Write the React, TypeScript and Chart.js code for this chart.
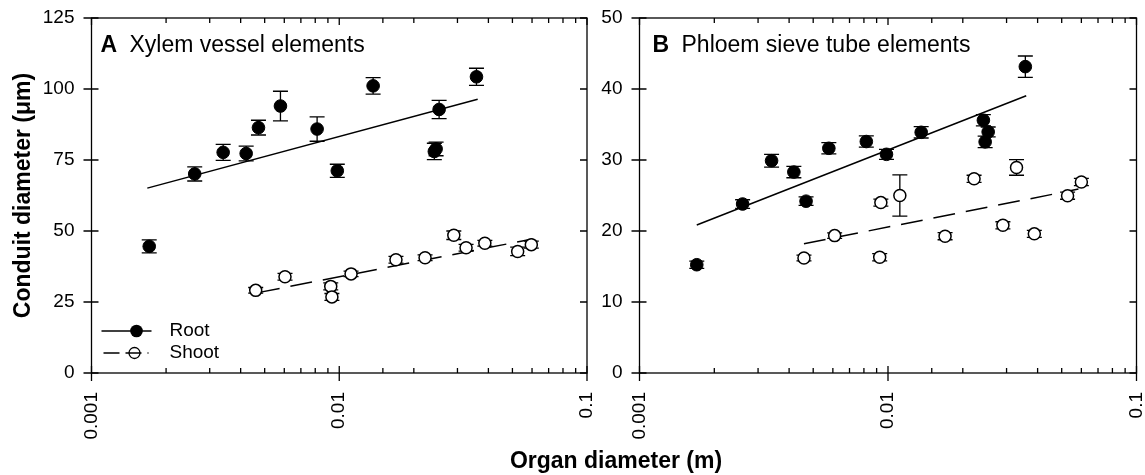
import React, { useEffect, useRef } from "react";
import { Chart, registerables } from "chart.js";

Chart.register(...registerables);

const FONT = "'Liberation Sans', Arial, Helvetica, sans-serif";

// ---------- Panel A: Xylem vessel elements ----------
const rootXA = [0.00171, 0.00261, 0.0034, 0.00421, 0.00472, 0.00579, 0.00814, 0.00982, 0.0137, 0.0253, 0.0242, 0.0246, 0.0358];
const rootYA = [44.6, 70.1, 77.7, 77.3, 86.4, 94.0, 85.9, 71.2, 101.1, 92.8, 78.0, 78.9, 104.3];
const rootEA = [2.3, 2.5, 2.8, 2.6, 2.6, 5.2, 4.3, 2.3, 2.9, 3.2, 2.9, 2.4, 3.0];
const shootXA = [0.0046, 0.00604, 0.00924, 0.00934, 0.01116, 0.01694, 0.0222, 0.029, 0.0325, 0.0387, 0.0525, 0.0596];
const shootYA = [29.1, 33.9, 30.5, 26.8, 34.9, 39.9, 40.6, 48.5, 44.1, 45.7, 42.8, 45.2];
const shootEA = [1.0, 1.2, 1.2, 1.2, 1.0, 1.2, 1.0, 1.5, 1.2, 1.0, 1.5, 1.2];
const rootFitXA = [0.00168, 0.0362];
const rootFitYA = [65.1, 96.4];
const shootFitXA = [0.0047, 0.0604];
const shootFitYA = [28.3, 47.2];

// ---------- Panel B: Phloem sieve tube elements ----------
const rootXB = [0.0017, 0.0026, 0.0034, 0.00418, 0.00468, 0.00578, 0.00818, 0.00986, 0.0136, 0.0242, 0.0253, 0.0246, 0.0357];
const rootYB = [15.25, 23.8, 29.9, 28.3, 24.2, 31.65, 32.6, 30.8, 33.9, 35.6, 33.95, 32.55, 43.15];
const rootEB = [0.5, 0.6, 0.9, 0.8, 0.6, 0.8, 0.8, 0.7, 0.8, 0.8, 0.7, 0.8, 1.5];
const shootXB = [0.00459, 0.0061, 0.00926, 0.00936, 0.01116, 0.01697, 0.0222, 0.029, 0.0329, 0.0388, 0.0528, 0.06];
const shootYB = [16.2, 19.35, 16.3, 24.0, 25.0, 19.27, 27.35, 20.8, 28.95, 19.6, 24.97, 26.9];
const shootEB = [0.4, 0.4, 0.5, 0.5, 2.9, 0.5, 0.5, 0.5, 1.1, 0.5, 0.5, 0.5];
const rootFitXB = [0.0017, 0.036];
const rootFitYB = [20.85, 39.05];
const shootFitXB = [0.00459, 0.0584];
const shootFitYB = [18.2, 25.9];

// ---------- Axes ----------
const xMin = 0.001;
const xMax = 0.1;
const xTickLabels = ["0.001", "0.01", "0.1"];
const yMaxA = 125;
const yStepA = 25;
const yMaxB = 50;
const yStepB = 10;

const legendLabels = ["Root", "Shoot"];

const toPts = (xs: number[], ys: number[]) => xs.map((x, i) => ({ x, y: ys[i] }));
const isPow10 = (v: number) => {
  const lg = Math.log10(v);
  return Math.abs(lg - Math.round(lg)) < 1e-6;
};

const errorBarPlugin = {
  id: "errorBars",
  beforeDatasetsDraw(chart: any) {
    const { ctx } = chart;
    const xs = chart.scales.x;
    const ys = chart.scales.y;
    ctx.save();
    ctx.strokeStyle = "#000";
    ctx.lineWidth = 1.3;
    chart.data.datasets.forEach((ds: any) => {
      if (!ds.errors) return;
      ds.data.forEach((pt: any, i: number) => {
        const e = ds.errors[i];
        const px = xs.getPixelForValue(pt.x);
        const y1 = ys.getPixelForValue(pt.y + e);
        const y2 = ys.getPixelForValue(pt.y - e);
        ctx.beginPath();
        ctx.moveTo(px, y1);
        ctx.lineTo(px, y2);
        ctx.moveTo(px - 7.5, y1);
        ctx.lineTo(px + 7.5, y1);
        ctx.moveTo(px - 7.5, y2);
        ctx.lineTo(px + 7.5, y2);
        ctx.stroke();
      });
    });
    ctx.restore();
  },
};

const framePlugin = {
  id: "frameTicks",
  afterDraw(chart: any) {
    const { ctx, chartArea: a } = chart;
    const xs = chart.scales.x;
    const ys = chart.scales.y;
    ctx.save();
    ctx.strokeStyle = "#000";
    ctx.lineWidth = 1.3;
    ctx.strokeRect(a.left, a.top, a.right - a.left, a.bottom - a.top);
    ctx.beginPath();
    xs.ticks.forEach((t: any) => {
      const px = xs.getPixelForValue(t.value);
      const major = isPow10(t.value);
      const inL = major ? 7 : 5;
      ctx.moveTo(px, a.bottom + (major ? 8 : 0));
      ctx.lineTo(px, a.bottom - inL);
      ctx.moveTo(px, a.top);
      ctx.lineTo(px, a.top + inL);
    });
    ys.ticks.forEach((t: any) => {
      const py = ys.getPixelForValue(t.value);
      ctx.moveTo(a.left - 8, py);
      ctx.lineTo(a.left + 7, py);
      ctx.moveTo(a.right, py);
      ctx.lineTo(a.right - 7, py);
    });
    ctx.stroke();
    ctx.restore();
  },
};

const annotPlugin = {
  id: "annot",
  afterDraw(chart: any) {
    const { ctx, chartArea: a } = chart;
    const o = chart.options.plugins.annot;
    ctx.save();
    ctx.fillStyle = "#000";
    ctx.textBaseline = "alphabetic";
    ctx.textAlign = "left";
    ctx.font = `bold 23px ${FONT}`;
    ctx.fillText(o.letter, a.left + o.letterOffset, 52);
    ctx.font = `23px ${FONT}`;
    ctx.fillText(o.title, a.left + o.letterOffset + 29, 52);
    if (o.legend) {
      const y1 = 331;
      const y2 = 353;
      ctx.strokeStyle = "#000";
      ctx.lineWidth = 1.3;
      ctx.beginPath();
      ctx.moveTo(a.left + 10, y1);
      ctx.lineTo(a.left + 60, y1);
      ctx.stroke();
      ctx.beginPath();
      ctx.arc(a.left + 45, y1, 6.3, 0, Math.PI * 2);
      ctx.fill();
      ctx.setLineDash([16, 6]);
      ctx.beginPath();
      ctx.moveTo(a.left + 12, y2);
      ctx.lineTo(a.left + 57, y2);
      ctx.stroke();
      ctx.setLineDash([]);
      ctx.beginPath();
      ctx.arc(a.left + 43, y2, 5.5, 0, Math.PI * 2);
      ctx.stroke();
      ctx.font = `19px ${FONT}`;
      ctx.textBaseline = "middle";
      ctx.fillText(legendLabels[0], a.left + 78, y1);
      ctx.fillText(legendLabels[1], a.left + 78, y2);
    }
    ctx.restore();
  },
};

type PanelSpec = {
  letter: string;
  title: string;
  rootX: number[];
  rootY: number[];
  rootE: number[];
  shootX: number[];
  shootY: number[];
  shootE: number[];
  rootFitX: number[];
  rootFitY: number[];
  shootFitX: number[];
  shootFitY: number[];
  yMax: number;
  yStep: number;
  legend: boolean;
  yTitle: string | null;
  yAxisWidth: number;
  padRight: number;
  letterOffset: number;
};

function makeConfig(p: PanelSpec): any {
  return {
    type: "scatter",
    data: {
      datasets: [
        {
          label: legendLabels[0],
          data: toPts(p.rootX, p.rootY),
          errors: p.rootE,
          pointRadius: 6.3,
          pointBackgroundColor: "#000",
          pointBorderColor: "#000",
          pointBorderWidth: 1,
          showLine: false,
          order: 0,
        },
        {
          label: legendLabels[1],
          data: toPts(p.shootX, p.shootY),
          errors: p.shootE,
          pointRadius: 6,
          pointBackgroundColor: "#fff",
          pointBorderColor: "#000",
          pointBorderWidth: 1.5,
          showLine: false,
          order: 0,
        },
        {
          label: "root fit",
          data: toPts(p.rootFitX, p.rootFitY),
          showLine: true,
          pointRadius: 0,
          borderColor: "#000",
          borderWidth: 1.5,
          order: 1,
        },
        {
          label: "shoot fit",
          data: toPts(p.shootFitX, p.shootFitY),
          showLine: true,
          pointRadius: 0,
          borderColor: "#000",
          borderWidth: 1.5,
          borderDash: [22, 11],
          order: 1,
        },
      ],
    },
    options: {
      responsive: false,
      animation: false,
      devicePixelRatio: 1,
      layout: { padding: { left: 0, right: p.padRight, top: 18, bottom: 0 } },
      plugins: {
        legend: { display: false },
        tooltip: { enabled: false },
        annot: { letter: p.letter, title: p.title, legend: p.legend, letterOffset: p.letterOffset },
      },
      scales: {
        x: {
          type: "logarithmic",
          min: xMin,
          max: xMax,
          grid: { display: false, drawTicks: false },
          border: { display: false },
          afterFit: (s: any) => {
            s.height = 102;
            s.paddingLeft = 0;
            s.paddingRight = 0;
          },
          ticks: {
            autoSkip: false,
            minRotation: 90,
            maxRotation: 90,
            padding: 19,
            color: "#000",
            font: { size: 19, family: FONT },
            callback: (v: any) => {
              const n = Number(v);
              if (!isPow10(n)) return "";
              const idx = Math.round(Math.log10(n / xMin));
              return xTickLabels[idx] ?? "";
            },
          },
        },
        y: {
          type: "linear",
          min: 0,
          max: p.yMax,
          grid: { display: false, drawTicks: false },
          border: { display: false },
          afterFit: (s: any) => {
            s.width = p.yAxisWidth;
            s.paddingTop = 0;
            s.paddingBottom = 0;
          },
          title: p.yTitle
            ? {
                display: true,
                text: p.yTitle,
                color: "#000",
                font: { size: 23, weight: "bold", family: FONT },
                padding: { top: 10, bottom: 0 },
              }
            : { display: false },
          ticks: {
            stepSize: p.yStep,
            padding: 17,
            color: "#000",
            font: { size: 19, family: FONT },
          },
        },
      },
    },
    plugins: [errorBarPlugin, framePlugin, annotPlugin],
  };
}

function Panel({ spec, left, width }: { spec: PanelSpec; left: number; width: number }) {
  const ref = useRef<HTMLCanvasElement | null>(null);
  useEffect(() => {
    if (!ref.current) return;
    const chart = new Chart(ref.current, makeConfig(spec));
    return () => chart.destroy();
  }, []);
  return (
    <canvas
      ref={ref}
      width={width}
      height={475}
      style={{ position: "absolute", left, top: 0, width, height: 475 }}
    />
  );
}

const specA: PanelSpec = {
  letter: "A",
  title: "Xylem vessel elements",
  rootX: rootXA,
  rootY: rootYA,
  rootE: rootEA,
  shootX: shootXA,
  shootY: shootYA,
  shootE: shootEA,
  rootFitX: rootFitXA,
  rootFitY: rootFitYA,
  shootFitX: shootFitXA,
  shootFitY: shootFitYA,
  yMax: yMaxA,
  yStep: yStepA,
  legend: true,
  yTitle: "Conduit diameter (\u03bcm)",
  yAxisWidth: 91.5,
  padRight: 13,
  letterOffset: 9,
};

const specB: PanelSpec = {
  letter: "B",
  title: "Phloem sieve tube elements",
  rootX: rootXB,
  rootY: rootYB,
  rootE: rootEB,
  shootX: shootXB,
  shootY: shootYB,
  shootE: shootEB,
  rootFitX: rootFitXB,
  rootFitY: rootFitYB,
  shootFitX: shootFitXB,
  shootFitY: shootFitYB,
  yMax: yMaxB,
  yStep: yStepB,
  legend: false,
  yTitle: null,
  yAxisWidth: 49.5,
  padRight: 8.5,
  letterOffset: 13,
};

export default function App() {
  return (
    <div
      style={{
        position: "fixed",
        left: 0,
        top: 0,
        width: 1145,
        height: 475,
        background: "#fff",
        overflow: "hidden",
      }}
    >
      <Panel spec={specA} left={0} width={600} />
      <Panel spec={specB} left={590} width={555} />
      <div
        style={{
          position: "absolute",
          left: 616,
          top: 446,
          transform: "translateX(-50%)",
          whiteSpace: "nowrap",
          fontFamily: FONT,
          fontWeight: "bold",
          fontSize: 23,
          lineHeight: "28px",
          color: "#000",
        }}
      >
        Organ diameter (m)
      </div>
    </div>
  );
}
